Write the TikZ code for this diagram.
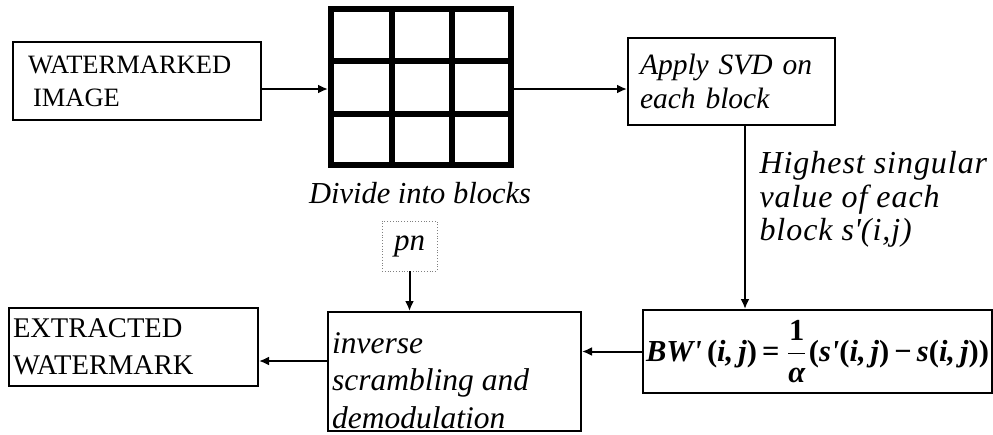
\documentclass[tikz,border=0pt]{standalone}
\usepackage{fontspec}
\setmainfont{Liberation Serif}
\usepackage{amsmath}
\usepackage{graphicx}
\usetikzlibrary{arrows.meta}
\newcommand{\apos}{\textquotesingle}
\begin{document}
\begin{tikzpicture}[x=1pt,y=-1pt,
  box/.style={draw, line width=2pt, rectangle, inner sep=0pt},
  arr/.style={line width=2pt, -{Latex[length=10pt,width=9pt]}},
  rmtext/.style={align=left},
  ittext/.style={font=\fontsize{29.5}{33.5}\selectfont\itshape, align=left},
  gridline/.style={line width=6pt}
]
\useasboundingbox (0,0) rectangle (993,434);
% watermarked image
\node[box, minimum width=248pt, minimum height=78pt, text width=218pt, inner xsep=15pt,
      font=\fontsize{26.5}{33}\selectfont, rmtext] (wm) at (137,81) {WATERMARKED\\\hspace*{5pt}IMAGE};
% grid
\node[draw, line width=6pt, minimum width=180pt, minimum height=156pt, inner sep=0pt] (grid) at (421,87) {};
\draw[gridline] (391.5,9) -- (391.5,165);
\draw[gridline] (452,9) -- (452,165);
\draw[gridline] (331,60.5) -- (511,60.5);
\draw[gridline] (331,114) -- (511,114);
\node[ittext, font=\fontsize{30.5}{33.5}\selectfont\itshape] (div) at (420,193) {Divide into blocks};
% SVD
\node[box, minimum width=207pt, minimum height=87pt, text width=183pt, inner xsep=12pt,
      ittext] (svd) at (731.5,81.5) {Apply SVD on\\each block};
\coordinate (ay) at (0,89);
\draw[arr] (wm.east |- ay) -- (grid.west |- ay);
\draw[arr] (grid.east |- ay) -- (svd.west |- ay);
% highest singular value
\node[ittext, font=\fontsize{32}{33.5}\selectfont\itshape\addfontfeatures{LetterSpace=3}, anchor=north west] (hs) at (756,148)
  {Highest singular\\value of each\\block s\apos(i,j)};
% formula box
\node[box, minimum width=349pt, minimum height=83pt] (bw) at (817.5,351.5)
  {\resizebox{343pt}{!}{\bfseries\itshape BW\apos\,\upshape(\itshape i,\,j\upshape)\,=\,$\dfrac{\text{\bfseries 1}}{\text{\bfseries\itshape α}}$\upshape(\itshape s\apos\upshape(\itshape i,\,j\upshape)\,−\,\itshape s\upshape(\itshape i,\,j\upshape))}};
\coordinate (vx) at (745,0);
\draw[arr] (svd.south -| vx) -- (bw.north -| vx);
% inverse scrambling
\node[box, minimum width=253pt, minimum height=119pt] (inv) at (454.5,371.5) {};
\node[font=\fontsize{31.5}{37.5}\selectfont\itshape, align=left, anchor=west, inner sep=0pt] (invt)
  at ([xshift=5pt,yshift=-9pt]inv.west) {inverse\\scrambling and\\demodulation};
% pn
\node[draw=gray, dotted, line width=0.8pt, minimum width=55pt, minimum height=50pt, inner sep=0pt,
      font=\fontsize{31}{33}\selectfont\itshape] (pn) at (409.5,246) {pn};
\draw[arr] (pn.south) -- (pn.south |- inv.north);
% extracted watermark
\node[box, minimum width=249pt, minimum height=78pt, text width=241pt, inner xsep=4pt,
      font=\fontsize{28.5}{37}\selectfont, rmtext] (ext) at (133.5,347) {EXTRACTED\\WATERMARK};
\draw[arr] (bw.west) -- (bw.west -| inv.east);
\coordinate (ey) at (0,361);
\draw[arr] (inv.west |- ey) -- (ext.east |- ey);
\end{tikzpicture}
\end{document}
